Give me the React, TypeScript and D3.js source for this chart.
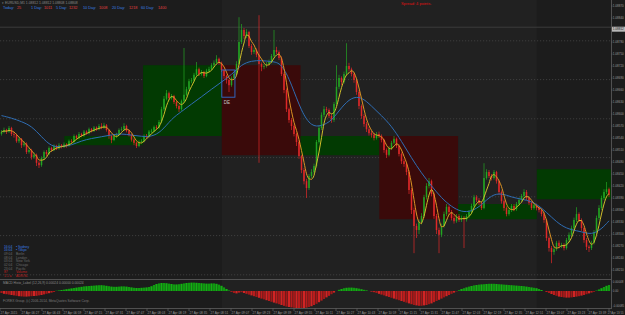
import React from "react";
import * as d3 from "d3";

const W = 625;
const H = 315;
const PLOT_R = 611.5;

// EURUSD M1-like candles, prices in points above 1.08000
const opens = [550,555,560,556,565,550,548,532,538,522,526,505,510,492,498,478,472,490,505,500,515,510,520,514,522,518,524,520,532,530,545,540,550,546,556,552,562,558,566,562,570,566,572,560,545,535,545,548,560,562,570,558,548,536,528,520,530,532,545,544,556,558,567,566,580,612,638,652,640,645,630,620,612,632,648,662,682,684,698,712,700,705,695,708,712,722,728,738,728,710,695,685,672,690,700,725,780,810,795,805,770,755,760,748,725,718,720,725,730,745,760,755,740,700,660,612,585,570,550,530,495,460,432,415,445,455,470,530,565,598,612,610,595,585,625,668,690,680,700,720,712,700,685,655,620,595,575,562,552,548,540,550,545,535,510,498,515,528,538,520,500,482,475,455,410,360,320,310,330,345,392,420,432,400,345,310,298,320,350,368,355,340,332,345,335,340,336,345,355,370,392,385,378,365,440,455,445,440,455,432,405,382,365,350,360,370,362,375,385,395,405,390,378,365,372,365,360,350,335,290,265,255,262,278,270,272,265,285,298,315,335,350,335,315,285,268,265,278,305,340,365,390,405,412];
const highs = [560,566,563,570,568,556,551,543,540,532,529,516,513,504,501,482,494,509,510,519,518,524,523,527,525,529,527,536,537,549,548,555,553,560,559,566,565,570,569,575,577,578,575,562,548,549,553,564,568,577,573,561,550,539,531,534,537,549,550,560,563,571,572,585,618,645,660,656,650,648,634,624,636,765,668,688,690,703,730,716,710,708,713,718,727,734,747,741,731,713,698,688,694,706,732,842,825,815,812,808,775,766,764,847,729,726,730,736,750,810,768,759,744,704,664,616,590,574,553,534,498,465,438,450,462,476,535,572,604,620,618,614,600,630,722,698,694,706,777,728,716,704,689,660,624,600,580,567,558,553,555,556,549,538,514,520,533,545,541,524,504,488,479,459,415,366,326,336,352,398,427,440,436,404,350,316,326,356,375,372,360,346,350,350,346,345,350,360,376,398,397,390,382,477,462,460,450,460,458,436,409,386,369,366,375,375,380,391,400,412,410,394,382,377,376,370,364,354,338,294,270,268,283,284,278,277,290,304,321,341,367,354,339,318,290,272,283,310,346,372,396,412,430,416];
const lows = [546,552,550,553,545,541,528,527,515,518,500,501,486,488,470,465,468,486,495,497,505,507,510,511,514,515,516,518,526,528,536,537,542,543,548,549,554,555,558,559,562,563,556,538,527,532,541,546,557,559,554,544,531,522,515,517,527,529,540,541,552,555,561,563,577,608,634,635,636,625,614,605,608,628,645,658,677,680,694,695,696,690,692,704,709,718,725,723,705,688,676,655,668,686,697,722,775,788,790,765,748,750,742,478,707,712,716,721,727,742,750,735,695,652,605,578,560,544,520,488,452,424,390,410,440,450,466,526,560,592,604,590,578,580,620,662,672,676,696,706,694,678,648,612,588,568,555,546,541,534,536,540,529,503,490,494,510,524,515,494,475,468,447,400,350,252,290,300,324,340,386,414,394,338,300,252,292,316,345,348,334,326,328,330,330,265,331,340,350,366,380,372,360,362,436,440,434,436,426,398,376,358,344,346,355,357,358,371,381,390,385,372,360,361,359,354,344,328,283,256,227,248,258,264,265,259,261,280,293,310,330,330,308,278,260,255,260,274,300,335,360,385,400,392];
const closes = [555,560,556,565,550,548,532,538,522,526,505,510,492,498,478,472,490,505,500,515,510,520,514,522,518,524,520,532,530,545,540,550,546,556,552,562,558,566,562,570,566,572,560,545,535,545,548,560,562,570,558,548,536,528,520,530,532,545,544,556,558,567,566,580,612,638,652,640,645,630,620,612,632,648,662,682,684,698,712,700,705,695,708,712,722,728,738,728,710,695,685,672,690,700,725,780,810,795,805,770,755,760,748,725,718,720,725,730,745,760,755,740,700,660,612,585,570,550,530,495,460,432,415,445,455,470,530,565,598,612,610,595,585,625,668,690,680,700,720,712,700,685,655,620,595,575,562,552,548,540,550,545,535,510,498,515,528,538,520,500,482,475,455,410,360,320,310,330,345,392,420,432,400,345,310,298,320,350,368,355,340,332,345,335,340,336,345,355,370,392,385,378,365,440,455,445,440,455,432,405,382,365,350,360,370,362,375,385,395,405,390,378,365,372,365,360,350,335,290,265,255,262,278,270,272,265,285,298,315,335,350,335,315,285,268,265,278,305,340,365,390,405,412,398];

// slow moving average (blue), one value every 4 bars, last at final bar
const slowMAIdx = [0,4,8,12,16,20,24,28,32,36,40,44,48,52,56,60,64,68,72,76,80,84,88,92,96,100,104,108,112,116,120,124,128,132,136,140,144,148,152,156,160,164,168,172,176,180,184,188,192,196,200,204,208,212,216,220,224,228,232,236,240,243];
const slowMA = [596,590,581,570,543,518,518,522,533,539,543,548,551,547,544,543,556,588,606,625,643,662,680,698,724,733,734,731,728,675,605,568,570,582,617,642,643,620,596,570,532,490,452,420,390,368,355,356,372,398,402,392,387,382,366,342,320,310,306,298,312,333];

// MACD histogram, points
const histo = [-10,-14,-16,-18,-20,-22,-24,-26,-27,-28,-28,-27,-26,-25,-24,-22,-20,-17,-14,-11,-8,-5,
  1,3,5,7,9,11,13,15,17,19,21,23,24,25,
  26,27,28,29,29,28,26,24,22,21,21,22,23,23,22,20,18,16,15,15,16,17,18,20,24,30,35,38,40,40,39,37,35,33,33,34,36,38,40,41,42,42,41,40,39,38,37,37,38,38,
  36,32,26,18,10,3,-4,-10,-12,-8,
  -6,-10,-14,-18,-22,-26,-30,-34,-38,-42,-46,-50,-54,-58,-62,-66,-70,-74,-78,-80,-82,-84,-85,-86,-86,-85,-83,-80,-76,-70,-64,-56,-48,-40,-32,-24,-16,
  -8,0,6,10,14,16,17,17,16,14,12,9,6,3,0,-3,
  -6,-10,-14,-18,-22,-26,-30,-34,-38,-42,-46,-50,-54,-58,-62,-66,-70,-72,-74,-74,-72,-70,-66,-62,-56,-50,-44,-38,-32,-26,-20,-14,
  -8,-2,4,10,14,18,22,25,28,30,32,33,34,35,36,36,36,35,34,33,32,31,30,29,28,27,26,25,24,22,20,18,16,14,
  10,5,0,-5,-10,-15,-20,-24,-28,-30,-32,-33,-33,-32,-30,-28,-26,-23,-20,-16,-12,-8,-4,
  2,8,14,20,26,30];

const priceTicks = [870,840,810,780,750,720,690,660,630,600,570,540,510,480,450,420,390,360,330,300,270,240,210];
const gridLevels = [783,686,588,491,393,296,198];
const currentPrice = 812;

// hourly range boxes (minutes after 06:00)
const boxStart = [60,120,180,240,300,360,420];
const boxEnd = [120,180,240,300,360,420,480];
const boxTop = [545,722,722,545,545,375,462];
const boxBottom = [522,545,497,497,337,337,387];
const boxUp = [true,true,false,true,false,true,true];
const sessionBand = [180,420];
const deBox = { start: 180, end: 190, top: 710, bottom: 642 };

const timeMinutes = [11,27,43,59,75,91,107,123,139,155,171,187,203,219,235,251,267,283,299,315,331,347,363,379,395,411,427,443,459,475];
const timeLabels = ["27 Apr 2015","27 Apr 06:27","27 Apr 06:43","27 Apr 06:59","27 Apr 07:15","27 Apr 07:31","27 Apr 07:47","27 Apr 08:03","27 Apr 08:19","27 Apr 08:35","27 Apr 08:51","27 Apr 09:07","27 Apr 09:23","27 Apr 09:39","27 Apr 09:55","27 Apr 10:11","27 Apr 10:27","27 Apr 10:43","27 Apr 10:59","27 Apr 11:15","27 Apr 11:31","27 Apr 11:47","27 Apr 12:03","27 Apr 12:19","27 Apr 12:35","27 Apr 12:51","27 Apr 13:07","27 Apr 13:23","27 Apr 13:39","27 Apr 13:55"];

const statLabels = ["Today:","1 Day:","5 Day:","10 Day:","20 Day:","60 Day:"];
const statValues = ["25","1011","1232","1008","1218","1400"];

const sessionTimes = ["16:04","16:04","09:04","08:04","03:04","02:04","23:04","87","1.1 a"];
const sessionNames = ["• Sydney","• Tokyo","Berlin","London","New York","Chicago","Pacific","Volume","ADR/SL"];
const sessionColors = ["#3b7fe0","#3b7fe0","#6a6a6a","#6a6a6a","#6a6a6a","#6a6a6a","#6a6a6a","#c02020","#c02020"];

const histTicks = [48, 0, -85];

const FONT = "'Liberation Sans', Arial, sans-serif";

export default function App() {
  const n = closes.length;
  const xB = d3.scaleLinear().domain([0, n - 1]).range([1.5, 609]);
  const xT = d3.scaleLinear().domain([27, 251]).range([21, 315]);
  const yP = d3.scaleLinear().domain([885, 185]).range([0, 280]);
  const yH = d3.scaleLinear().domain([0, -85]).range([291, 308]);

  // fast MA from closes (4-bar)
  const fast = closes.map((_, i) => d3.mean(closes.slice(Math.max(0, i - 3), i + 1)) as number);
  const segs: { up: boolean; pts: [number, number][] }[] = [];
  for (let i = 1; i < n; i++) {
    const up = fast[i] >= fast[Math.max(0, i - 2)];
    const p0: [number, number] = [xB(i - 1), yP(fast[i - 1])];
    const p1: [number, number] = [xB(i), yP(fast[i])];
    const last = segs[segs.length - 1];
    if (last && last.up === up) last.pts.push(p1);
    else segs.push({ up, pts: [p0, p1] });
  }
  const segLine = d3.line<[number, number]>().curve(d3.curveMonotoneX);
  const slowLine = d3
    .line<number>()
    .x((_, k) => xB(slowMAIdx[k]))
    .y((d) => yP(d))
    .curve(d3.curveBasis);

  const priceFmt = (v: number) => (1.08 + v / 100000).toFixed(5);
  const AX = 612.8;
  const AF = 3.05;

  return (
    <svg
      width={W}
      height={H}
      style={{ position: "fixed", left: 0, top: 0, background: "#1c1c1c" }}
      fontFamily={FONT}
    >
      <defs>
        <clipPath id="mainClip">
          <rect x={0} y={0} width={PLOT_R} height={279} />
        </clipPath>
        <clipPath id="subClip">
          <rect x={0} y={280} width={PLOT_R} height={28} />
        </clipPath>
      </defs>
      <rect x={0} y={0} width={W} height={H} fill="#1c1c1c" />
      {/* session band */}
      <rect x={xT(sessionBand[0])} y={0} width={xT(sessionBand[1]) - xT(sessionBand[0])} height={308} fill="#212121" />

      <g clipPath="url(#mainClip)">
        {/* grid */}
        {gridLevels.map((g, k) => (
          <line key={k} x1={0} x2={PLOT_R} y1={yP(g)} y2={yP(g)} stroke="#4a4a4a" strokeWidth={0.7} strokeDasharray="1.2 1.8" />
        ))}
        <line x1={0} x2={PLOT_R} y1={yP(currentPrice) - 2} y2={yP(currentPrice) - 2} stroke="#3c3c3c" strokeWidth={1} />
        {/* boxes */}
        {boxStart.map((s, k) => (
          <rect
            key={k}
            x={xT(s)}
            y={yP(boxTop[k])}
            width={xT(boxEnd[k]) - xT(s)}
            height={yP(boxBottom[k]) - yP(boxTop[k])}
            fill={boxUp[k] ? "#023a02" : "#3a0a0a"}
          />
        ))}
        {/* candles */}
        {closes.map((c, i) => {
          const o = opens[i];
          const up = c >= o;
          const col = up ? "#22a522" : "#e02828";
          const x = xB(i);
          const top = yP(Math.max(o, c));
          const bh = Math.max(0.8, yP(Math.min(o, c)) - top);
          return (
            <g key={i}>
              <line x1={x} x2={x} y1={yP(highs[i])} y2={yP(lows[i])} stroke={col} strokeWidth={0.7} />
              <rect x={x - 0.75} y={top} width={1.5} height={bh} fill={col} />
            </g>
          );
        })}
        {/* slow MA */}
        <path d={slowLine(slowMA) || ""} fill="none" stroke="#2f6db3" strokeWidth={1} />
        {/* fast MA */}
        {segs.map((s, k) => (
          <path key={k} d={segLine(s.pts) || ""} fill="none" stroke={s.up ? "#cfbd2a" : "#dd9324"} strokeWidth={1} />
        ))}
        {/* DE box */}
        <rect
          x={xT(deBox.start)}
          y={yP(deBox.top)}
          width={xT(deBox.end) - xT(deBox.start)}
          height={yP(deBox.bottom) - yP(deBox.top)}
          fill="none"
          stroke="#2f6fd0"
          strokeWidth={0.9}
        />
        <text x={xT(deBox.start) + 2} y={yP(deBox.bottom) + 7} fontSize={4.5} fill="#c8c8c8">DE</text>
      </g>

      {/* header texts */}
      <text x={2} y={4} fontSize={3.4} fill="#8a8a8a">▾ EURUSD,M1  1.08812 1.08812 1.08808 1.08808</text>
      {statLabels.map((l, k) => {
        const x0 = [3, 31, 56, 83, 112, 141][k];
        const x1 = [17, 44, 69, 99, 129, 158][k];
        return (
          <g key={k}>
            <text x={x0} y={8.5} fontSize={3.8} fill="#3b7fe0">{l}</text>
            <text x={x1} y={8.5} fontSize={3.8} fill="#e04040">{statValues[k]}</text>
          </g>
        );
      })}
      <text x={401} y={5} fontSize={4} fill="#e01010">Spread: 4 points.</text>

      {/* sessions */}
      {sessionTimes.map((t, k) => (
        <g key={k}>
          <text x={4} y={247.5 + k * 3.7} fontSize={3.3} fill={sessionColors[k]}>{t}</text>
          <text x={16} y={247.5 + k * 3.7} fontSize={3.3} fill={sessionColors[k]}>{sessionNames[k]}</text>
        </g>
      ))}

      {/* separator & subwindow */}
      <line x1={0} x2={PLOT_R} y1={279.5} y2={279.5} stroke="#505050" strokeWidth={1} />
      <g clipPath="url(#subClip)">
        {histo.map((h, i) => (
          <rect
            key={i}
            x={xB(i) - 1.1}
            y={h >= 0 ? yH(h) : yH(0)}
            width={2.2}
            height={Math.abs(yH(h) - yH(0))}
            fill={h >= 0 ? (i % 2 ? "#0f9a0f" : "#14b014") : i % 3 === 0 ? "#a01818" : i % 3 === 1 ? "#d02424" : "#b81c1c"}
          />
        ))}
      </g>
      <text x={3} y={284} fontSize={3.3} fill="#8a8a8a">MACD Histo_Label (12,26,9) 0.00024 0.00000 0.00024</text>
      <text x={3} y={302} fontSize={3.3} fill="#7a7a7a">FOREX Group, (c) 2006-2014, MetaQuotes Software Corp.</text>
      <line x1={0} x2={PLOT_R} y1={308.5} y2={308.5} stroke="#505050" strokeWidth={1} />

      {/* right axis */}
      <line x1={PLOT_R} x2={PLOT_R} y1={0} y2={309} stroke="#505050" strokeWidth={1} />
      {priceTicks
        .filter((v) => Math.abs(yP(v) - yP(currentPrice)) > 5)
        .map((v) => (
          <g key={v}>
            <line x1={PLOT_R} x2={PLOT_R + 1} y1={yP(v)} y2={yP(v)} stroke="#777" strokeWidth={0.6} />
            <text x={AX} y={yP(v) + 1.2} fontSize={AF} fill="#9a9a9a">{priceFmt(v)}</text>
          </g>
        ))}
      <rect x={612} y={yP(currentPrice) - 2.5} width={13} height={5} fill="#b8b8b8" />
      <text x={AX} y={yP(currentPrice) + 1.2} fontSize={AF} fill="#1c1c1c">{priceFmt(currentPrice)}</text>
      {histTicks.map((v, k) => (
        <text key={k} x={AX} y={Math.min(yH(v) + 1.2, 306.5)} fontSize={2.9} fill="#9a9a9a">
          {v === 0 ? "0.00" : (v / 100000).toFixed(5)}
        </text>
      ))}

      {/* time axis */}
      {timeMinutes.map((m, k) => {
        const last = k === timeMinutes.length - 1;
        return (
          <g key={k}>
            <line x1={xT(m)} x2={xT(m)} y1={308.5} y2={311} stroke="#707070" strokeWidth={0.6} />
            <text
              x={last ? 623.5 : xT(m) + 0.6}
              y={313.5}
              fontSize={last ? 2.8 : 3.1}
              fill="#9a9a9a"
              textAnchor={last ? "end" : "start"}
            >
              {timeLabels[k]}
            </text>
          </g>
        );
      })}
    </svg>
  );
}
